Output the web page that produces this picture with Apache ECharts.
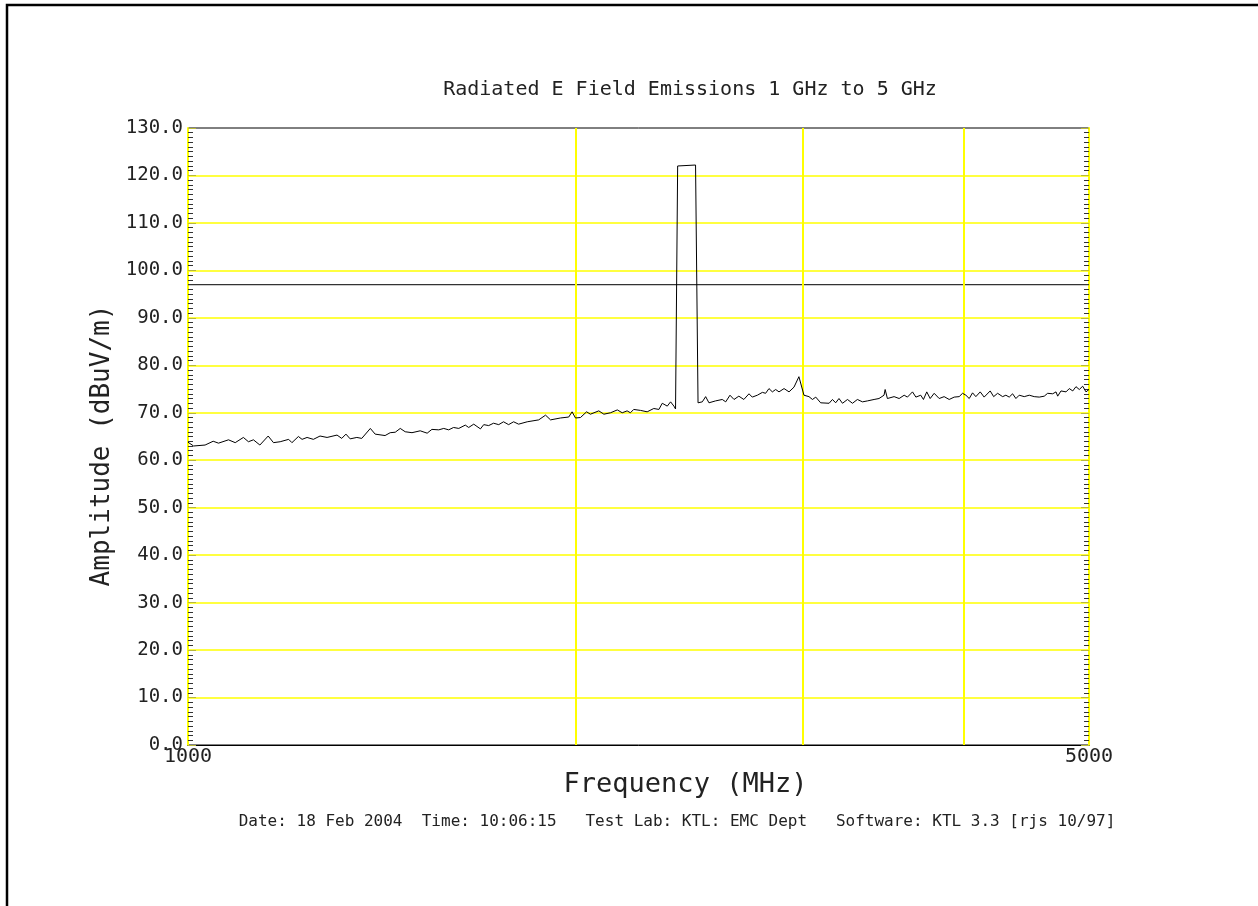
<!DOCTYPE html>
<html><head><meta charset="utf-8">
<script src="https://cdn.jsdelivr.net/npm/echarts@6/dist/echarts.min.js"></script>
<style>html,body{margin:0;padding:0;background:#fff}#c{width:1258px;height:906px}</style>
</head><body><div id="c"></div>
<script>
// Frequency (MHz) and amplitude (dBuV/m)
const freqMHz = [
  1000,1010,1031,1046,1056,1075,1088,1104,1114,1124,1137,1154,1165,1179,1197,1204,1218,1226,1237,1251,
  1266,1282,1305,1316,1326,1336,1352,1364,1385,1397,1422,1435,1448,1461,1474,1492,1514,1533,1546,1565,
  1579,1593,1607,1622,1641,1651,1666,1686,1696,1711,1726,1742,1757,1773,1789,1805,1833,1871,1894,1911,
  1945,1974,1986,1998,2016,2038,2052,2083,2102,2127,2153,2172,2191,2204,2217,2244,2271,2298,2319,2333,
  2354,2368,2382,2389,2398,2476,2487,2506,2521,2536,2566,2597,2613,2633,2652,2675,2699,2724,2740,2765,
  2790,2806,2823,2840,2857,2874,2900,2926,2952,2978,3005,3032,3051,3069,3096,3143,3162,3180,3199,3219,
  3248,3277,3306,3336,3366,3406,3436,3467,3474,3488,3530,3562,3594,3615,3648,3670,3702,3720,3742,3765,
  3792,3826,3860,3895,3930,3965,3989,4013,4037,4061,4085,4117,4146,4191,4217,4247,4285,4310,4336,4362,
  4388,4414,4454,4494,4534,4575,4616,4644,4686,4714,4728,4756,4799,4827,4857,4885,4914,4944,4973,5000
];
const amplitude = [
  63.8,63.0,63.2,64.0,63.6,64.3,63.7,64.8,63.9,64.3,63.2,65.1,63.7,63.9,64.4,63.7,65.0,64.4,64.8,64.4,
  65.1,64.8,65.3,64.6,65.5,64.5,64.8,64.6,66.7,65.5,65.2,65.8,65.9,66.7,66.0,65.8,66.2,65.7,66.5,66.4,
  66.7,66.4,66.9,66.7,67.4,66.9,67.6,66.6,67.5,67.3,67.8,67.5,68.1,67.5,68.1,67.6,68.1,68.5,69.5,68.5,
  68.9,69.1,70.2,68.9,69.0,70.2,69.7,70.4,69.7,70.0,70.6,70.0,70.4,70.0,70.7,70.5,70.2,70.9,70.7,72.0,
  71.4,72.3,71.4,70.8,122.0,122.2,72.1,72.3,73.4,72.1,72.5,72.8,72.3,73.7,72.8,73.5,72.8,74.0,73.3,73.7,
  74.3,74.1,75.1,74.4,74.9,74.4,75.1,74.4,75.4,77.6,73.7,73.4,72.8,73.3,72.1,72.0,72.8,72.1,73.0,72.0,
  72.8,72.0,72.8,72.3,72.5,72.8,73.0,73.7,74.9,73.0,73.4,73.0,73.7,73.3,74.4,73.3,73.7,72.8,74.4,73.0,
  74.1,73.0,73.4,72.8,73.3,73.4,74.1,73.7,73.0,74.2,73.4,74.4,73.3,74.6,73.4,74.1,73.4,73.7,73.3,74.0,
  73.0,73.7,73.4,73.7,73.4,73.3,73.5,74.1,74.0,74.4,73.5,74.6,74.4,75.1,74.6,75.5,74.9,75.6,74.4,74.9
];
const limitFreqs = [1000, 5000];
const limitLevels = [97, 97];
const verticalGridFreqs = [2000, 3000, 4000];
const yMin = 0, yMax = 130, yStep = 10;
const titleText = 'Radiated E Field Emissions 1 GHz to 5 GHz';
const xAxisName = 'Frequency (MHz)';
const yAxisName = 'Amplitude (dBuV/m)';
const footerText = 'Date: 18 Feb 2004  Time: 10:06:15   Test Lab: KTL: EMC Dept   Software: KTL 3.3 [rjs 10/97]';

const FONT = 'DejaVu Sans Mono';
const traceData = freqMHz.map((f, i) => [f, amplitude[i]]);
const limitData = limitFreqs.map((f, i) => [f, limitLevels[i]]);

const yAxisCommon = {
  type: 'value', min: yMin, max: yMax, interval: yStep,
  axisLine: { show: true, onZero: false, lineStyle: { color: '#ffff00', width: 2 } },
  axisTick: { show: true, inside: true, length: 8, lineStyle: { color: '#b8b83a', width: 1 } },
  minorTick: { show: true, splitNumber: 10, length: 5, lineStyle: { color: '#333', width: 1 } }
};

const chart = echarts.init(document.getElementById('c'), null, { renderer: 'canvas' });
chart.setOption({
  animation: false,
  backgroundColor: '#fff',
  grid: { left: 188, right: 169, top: 128, bottom: 161, show: true, borderColor: '#000', borderWidth: 1, backgroundColor: 'transparent' },
  xAxis: {
    type: 'log', logBase: 10, min: 1000, max: 5000,
    name: xAxisName, nameLocation: 'middle', nameGap: 16,
    nameTextStyle: { fontFamily: FONT, fontSize: 27, color: '#222', padding: [0, 0, 0, 94] },
    axisLine: { show: true, onZero: false, lineStyle: { color: '#000', width: 1 } },
    axisTick: { show: false },
    minorTick: { show: false },
    splitLine: { show: false },
    axisLabel: {
      show: true, margin: 2, showMinLabel: true, showMaxLabel: true,
      fontFamily: FONT, fontSize: 20, color: '#222',
      formatter: v => String(Math.round(v))
    }
  },
  yAxis: [
    Object.assign({}, yAxisCommon, {
      position: 'left',
      name: yAxisName, nameLocation: 'middle', nameGap: 64, nameRotate: 90,
      nameTextStyle: { fontFamily: FONT, fontSize: 26, color: '#222', padding: [0, 18, 0, 0] },
      axisLabel: { show: true, margin: 5, fontFamily: FONT, fontSize: 19, color: '#222', formatter: v => v.toFixed(1) },
      splitLine: { show: true, showMinLine: false, showMaxLine: false, lineStyle: { color: '#ffff00', width: 1.5 } }
    }),
    Object.assign({}, yAxisCommon, {
      position: 'right',
      axisLabel: { show: false },
      splitLine: { show: false }
    })
  ],
  series: [
    {
      name: 'Limit', type: 'line', data: limitData, xAxisIndex: 0, yAxisIndex: 0,
      symbol: 'none', z: 3, silent: true,
      lineStyle: { color: '#333', width: 1.2 },
      markLine: {
        silent: true, symbol: 'none', label: { show: false },
        lineStyle: { color: '#ffff00', width: 2, type: 'solid' },
        data: verticalGridFreqs.map(f => ({ xAxis: f }))
      }
    },
    {
      name: 'Emissions', type: 'line', data: traceData, xAxisIndex: 0, yAxisIndex: 0,
      symbol: 'none', z: 5, silent: true,
      lineStyle: { color: '#000', width: 1 }
    }
  ],
  graphic: [
    { type: 'polyline', silent: true, shape: { points: [[7, 1200], [7, 5], [1500, 5]] },
      style: { fill: null, stroke: '#000', lineWidth: 2.5 } },
    { type: 'text', silent: true, x: 690, y: 90,
      style: { text: titleText, align: 'center', verticalAlign: 'middle', fontFamily: FONT, fontSize: 20, fill: '#222' } },
    { type: 'text', silent: true, x: 677, y: 822,
      style: { text: footerText, align: 'center', verticalAlign: 'middle', fontFamily: FONT, fontSize: 16, fill: '#222' } }
  ]
});
</script>
</body></html>
